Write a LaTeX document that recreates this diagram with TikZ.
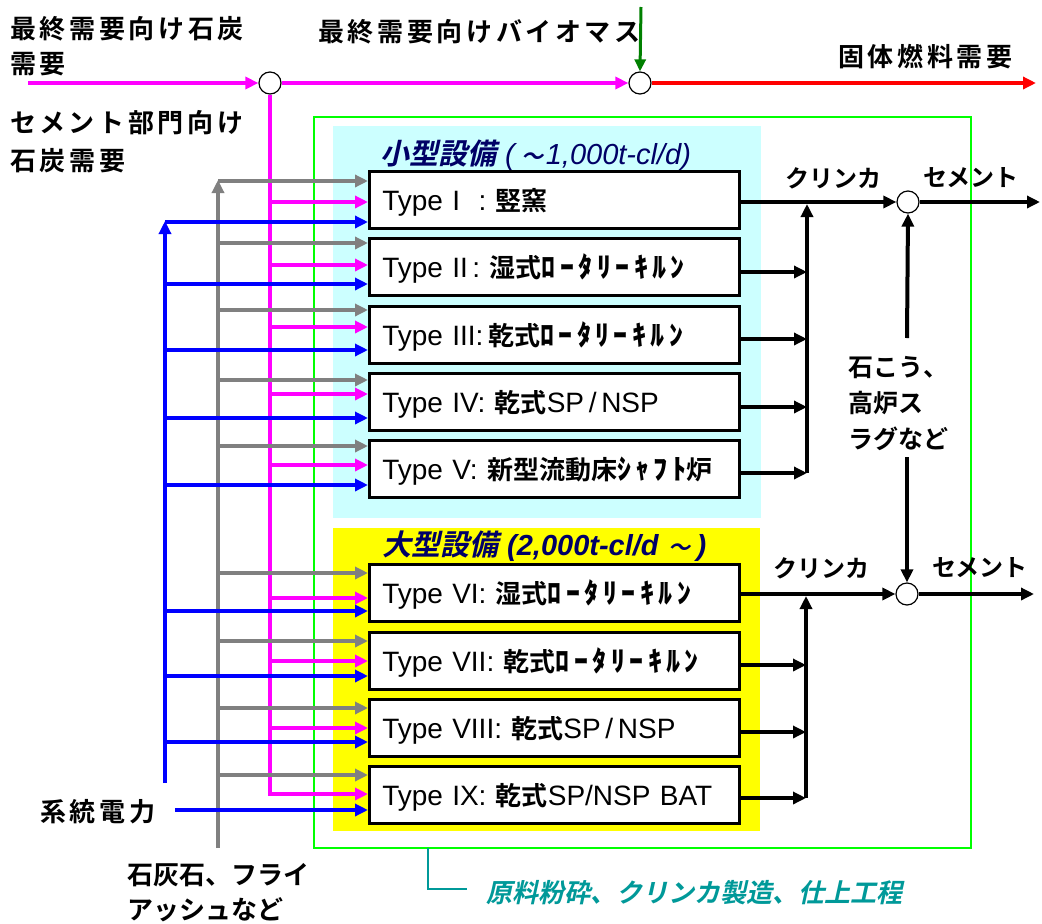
\documentclass[tikz,border=0pt]{standalone}
\usepackage{fontspec}
\setmainfont{Liberation Sans}
\newfontfamily\jp{Noto Sans CJK JP Bold}
\newfontfamily\jpw[LetterSpace=14]{Noto Sans CJK JP Bold}
\newfontfamily\jph[LetterSpace=16]{Noto Sans CJK JP Black}
\newfontfamily\jpsl[FakeSlant=0.22]{Noto Sans CJK JP Bold}
\usetikzlibrary{arrows.meta,calc}
\definecolor{mag}{RGB}{255,0,255}
\definecolor{blu}{RGB}{0,0,255}
\definecolor{gry}{RGB}{128,128,128}
\definecolor{rd}{RGB}{255,0,0}
\definecolor{dgreen}{RGB}{0,128,0}
\definecolor{lgreen}{RGB}{0,255,0}
\definecolor{cyanbg}{RGB}{204,255,255}
\definecolor{yel}{RGB}{255,255,0}
\definecolor{navy}{RGB}{0,0,102}
\definecolor{teal}{RGB}{0,153,153}
\newcommand{\jkt}[1]{{\jp\fontsize{26}{30}\selectfont #1}}
\newcommand{\hkt}[1]{{\jph\fontsize{28}{30}\selectfont #1}}
\begin{document}
\begin{tikzpicture}[x=1pt,y=-1pt,
  ln/.style={line width=4pt},
  tip/.style={-{Triangle[length=13pt,width=12pt]}},
  garr/.style={ln, draw=gry, tip, color=gry},
  marr/.style={ln, draw=mag, tip, color=mag},
  barr/.style={ln, draw=blu, tip, color=blu},
  karr/.style={ln, draw=black, tip},
  tbox/.style={draw, line width=2.5pt, fill=white, anchor=north west,
    minimum width=370pt, minimum height=57pt, text width=344pt, align=left,
    inner xsep=13pt, inner ysep=0pt, text height=27pt, text depth=5pt,
    font=\fontsize{28}{30}\selectfont},
  junc/.style={circle, draw, fill=white, line width=1.2pt, minimum size=22pt, inner sep=0pt},
  jl/.style={inner sep=0pt, anchor=north west, align=left},
  js/.style={inner sep=0pt, anchor=west}
]
\useasboundingbox (0,0) rectangle (1042,924);
\fill[white] (0,0) rectangle (1042,924);

% backgrounds
\fill[cyanbg] (333,126) rectangle (761,518);
\fill[yel] (333,528) rectangle (760,831);
\draw[lgreen, line width=1.3pt] (314,117) rectangle (971,848);
\draw[teal, line width=1.8pt] (428,848) |- (467,889);

% headers
\node[js, text=navy] (h1) at (380,155) {{\jpsl\fontsize{29}{30}\selectfont 小型設備}\hspace{9pt}{\itshape\fontsize{29}{30}\selectfont (}\hspace{7pt}{\jpsl\fontsize{22}{30}\selectfont ～}\hspace{2pt}{\itshape\fontsize{29}{30}\selectfont 1,000t-cl/d)}};
\node[js, text=navy] (h2) at (382,546) {{\jpsl\fontsize{29}{30}\selectfont 大型設備}\hspace{9pt}{\bfseries\itshape\fontsize{29}{30}\selectfont (2,000t-cl/d}\hspace{10pt}{\jpsl\fontsize{22}{30}\selectfont ～}\hspace{6pt}{\bfseries\itshape\fontsize{29}{30}\selectfont )}};

% boxes
\node[tbox] (b1) at (368,170) {Type I\ \ :\ \jkt{竪窯}};
\node[tbox] (b2) at (368,237) {Type II\,:\ \jkt{湿式}\hkt{ﾛｰﾀﾘｰｷﾙﾝ}};
\node[tbox] (b3) at (368,305) {Type III:\,\jkt{乾式}\hkt{ﾛｰﾀﾘｰｷﾙﾝ}};
\node[tbox] (b4) at (368,372) {Type IV:\ \jkt{乾式}SP\,/\,NSP};
\node[tbox] (b5) at (368,439) {Type V:\ \jkt{新型流動床}\hkt{ｼｬﾌﾄ}\jkt{炉}};
\node[tbox] (b6) at (368,563) {Type VI:\ \jkt{湿式}\hkt{ﾛｰﾀﾘｰｷﾙﾝ}};
\node[tbox] (b7) at (368,631) {Type VII:\ \jkt{乾式}\hkt{ﾛｰﾀﾘｰｷﾙﾝ}};
\node[tbox] (b8) at (368,698) {Type VIII:\ \jkt{乾式}SP\,/\,NSP};
\node[tbox] (b9) at (368,765) {Type IX:\ \jkt{乾式}SP/NSP BAT};

% junctions
\node[junc] (c1) at (270,83) {};
\node[junc] (c2) at (640,83) {};
\node[junc] (c3) at (908,202) {};
\node[junc] (c4) at (907,594) {};

% bus coordinates
\coordinate (gbus) at (218,848);
\coordinate (bbus) at (165,783);
\coordinate (pw) at (175,810);
\coordinate (mstart) at (28,83);
\coordinate (rend) at (1036,83);
\coordinate (gtop) at (641,7);

% top line
\draw[marr] (mstart) -- (c1.west);
\draw[marr] (c1.east) -- (c2.west);
\draw[ln, draw=rd, tip, color=rd] (c2.east) -- (rend);
\draw[line width=3pt, draw=dgreen, color=dgreen, -{Triangle[length=12pt,width=11pt]}] (gtop) -- (c2.north);

% vertical buses
\draw[garr] (gbus) -- (218,180);
\draw[barr] (bbus) -- (165,221);
\draw[marr] (c1.south) |- (b9.west |- 0,794);
\draw[barr] (pw) -- (b9.west |- pw);

% inputs
\foreach \n/\g in {1/181,2/243,3/310,4/380,5/446,6/573,7/641,8/708,9/775}
  \draw[garr] (218,\g) -- (b\n.west |- 0,\g);
\foreach \n/\m in {1/202,2/265,3/327,4/394,5/465,6/598,7/661,8/728}
  \draw[marr] (270,\m) -- (b\n.west |- 0,\m);
\foreach \n/\b in {1/222,2/284,3/350,4/418,5/485,6/611,7/676,8/742}
  \draw[barr] (165,\b) -- (b\n.west |- 0,\b);

% outputs
\draw[karr] (b1.east |- 0,202) -- (c3.west);
\draw[karr] (807,473) -- (807,204);
\foreach \n/\o in {2/272,3/339,4/407,5/473}
  \draw[karr] (b\n.east |- 0,\o) -- (807,\o);
\draw[karr] (b6.east |- 0,594) -- (c4.west);
\draw[karr] (806,798) -- (806,596);
\foreach \n/\o in {7/665,8/732,9/798}
  \draw[karr] (b\n.east |- 0,\o) -- (806,\o);
\draw[karr] (c3.east) -- (1040,202);
\draw[karr] (c4.east) -- (1034,594);
\draw[karr] (907,338) -- (c3.south);
\draw[karr] (907,457) -- (c4.north);

% labels
\node[jl, font=\jpw\fontsize{26}{35}\selectfont] (t1) at (10,16.5) {最終需要向け石炭\\需要};
\node[jl, font=\jpw\fontsize{26}{38}\selectfont] (t2) at (10,110.5) {セメント部門向け\\石炭需要};
\node[js, font=\jpw\fontsize{26}{30}\selectfont] (t3) at (318,32) {最終需要向けバイオマス};
\node[js, font=\jpw\fontsize{26}{30}\selectfont] (t4) at (838,57) {固体燃料需要};
\node[js, font=\jpw\fontsize{26}{30}\selectfont] (t5) at (40,812) {系統電力};
\node[jl, font=\jp\fontsize{26}{35}\selectfont] (t6) at (127,863.5) {石灰石、フライ\\アッシュなど};
\node[js, font=\jp\fontsize{24}{30}\selectfont] (t7) at (785,178) {クリンカ};
\node[js, font=\jp\fontsize{24}{30}\selectfont] (t8) at (923,178) {セメント};
\node[js, font=\jp\fontsize{24}{30}\selectfont] (t9) at (773,568) {クリンカ};
\node[js, font=\jp\fontsize{24}{30}\selectfont] (t10) at (932,568) {セメント};
\node[jl, font=\jp\fontsize{25}{36}\selectfont] (t11) at (848,356.5) {石こう、\\高炉ス\\ラグなど};
\node[js, font=\jpsl\fontsize{26}{30}\selectfont, text=teal] (t12) at (486,893) {原料粉砕、クリンカ製造、仕上工程};
\end{tikzpicture}
\end{document}
